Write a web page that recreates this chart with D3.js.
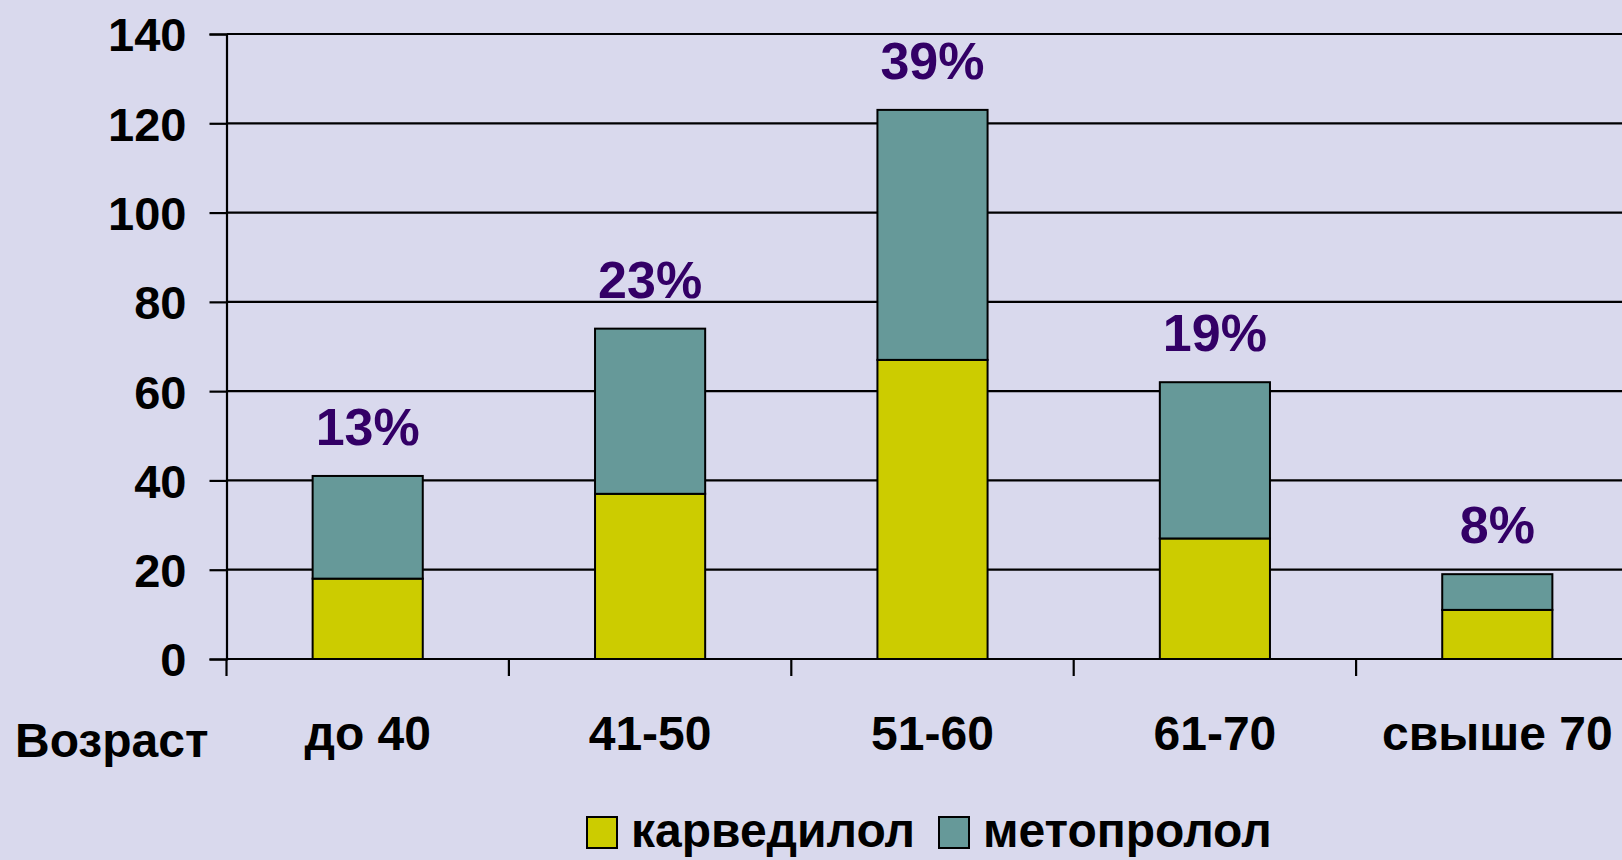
<!DOCTYPE html>
<html>
<head>
<meta charset="utf-8">
<script src="https://cdn.jsdelivr.net/npm/d3@7"></script>
<style>
  html, body { margin: 0; padding: 0; background: #d9d9ed; }
  svg { display: block; font-family: "Liberation Sans", Arial, sans-serif; font-weight: bold; }
</style>
</head>
<body>
<div id="chart"></div>
<script>
// Chart data
const categories = ['до 40', '41-50', '51-60', '61-70', 'свыше 70'];
const carvedilol = [18, 37, 67, 27, 11];
const metoprolol = [23, 37, 56, 35, 8];
const shareLabels = ['13%', '23%', '39%', '19%', '8%'];
const seriesNames = ['карведилол', 'метопролол'];
const yTicks = [0, 20, 40, 60, 80, 100, 120, 140];
const axisTitle = 'Возраст';

const W = 1622, H = 860;
const colors = ['#cccc00', '#669999'];

const svg = d3.select('#chart').append('svg')
    .attr('width', W)
    .attr('height', H);

svg.append('rect').attr('width', W).attr('height', H).attr('fill', '#d9d9ed');

// Scales
const x = d3.scaleBand()
    .domain(categories)
    .range([226.5, 1638.5])
    .paddingInner(0.61)
    .paddingOuter(0.305);

const y = d3.scaleLinear()
    .domain([0, 140])
    .range([659, 34]);

// y axis with outward ticks
const yAxis = d3.axisLeft(y)
    .tickValues(yTicks)
    .tickSize(17)
    .tickPadding(23);

const yg = svg.append('g')
    .attr('transform', 'translate(226.5,0)')
    .call(yAxis);
yg.select('.domain').attr('stroke', '#000').attr('stroke-width', 2.2);
yg.selectAll('.tick line').attr('stroke', '#000').attr('stroke-width', 2.2);
yg.selectAll('.tick text')
    .attr('fill', '#000')
    .attr('font-size', 47)
    .attr('font-family', '"Liberation Sans", Arial, sans-serif')
    .attr('font-weight', 'bold')
    .attr('dy', '0.36em');

// gridlines
svg.append('g').selectAll('line')
    .data(yTicks)
    .join('line')
    .attr('x1', 226.5)
    .attr('x2', W)
    .attr('y1', d => y(d))
    .attr('y2', d => y(d))
    .attr('stroke', '#000')
    .attr('stroke-width', 2.2);

// x axis tick marks at band boundaries
const step = x.step();
const boundaries = d3.range(categories.length + 1).map(i => x.range()[0] + i * step);
svg.append('g').selectAll('line')
    .data(boundaries)
    .join('line')
    .attr('x1', d => d)
    .attr('x2', d => d)
    .attr('y1', y(0))
    .attr('y2', y(0) + 17)
    .attr('stroke', '#000')
    .attr('stroke-width', 2.2);

// Stacked bars
const rows = categories.map((c, i) => ({ cat: c, carv: carvedilol[i], meto: metoprolol[i] }));
const stack = d3.stack().keys(['carv', 'meto'])(rows);

svg.append('g').selectAll('g')
    .data(stack)
    .join('g')
    .attr('fill', (d, i) => colors[i])
    .selectAll('rect')
    .data(d => d)
    .join('rect')
    .attr('x', d => x(d.data.cat))
    .attr('width', x.bandwidth())
    .attr('y', d => y(d[1]))
    .attr('height', d => y(d[0]) - y(d[1]))
    .attr('stroke', '#000')
    .attr('stroke-width', 2);

// Share labels above bars
svg.append('g').selectAll('text')
    .data(rows)
    .join('text')
    .attr('x', d => x(d.cat) + x.bandwidth() / 2)
    .attr('y', d => y(d.carv + d.meto) - 31)
    .attr('text-anchor', 'middle')
    .attr('font-size', 52)
    .attr('fill', '#330066')
    .text((d, i) => shareLabels[i]);

// Category labels
svg.append('g').selectAll('text')
    .data(categories)
    .join('text')
    .attr('x', d => x(d) + x.bandwidth() / 2)
    .attr('y', 750)
    .attr('text-anchor', 'middle')
    .attr('font-size', 48)
    .attr('fill', '#000')
    .text(d => d);

svg.append('text')
    .attr('x', 15)
    .attr('y', 757)
    .attr('font-size', 48)
    .attr('fill', '#000')
    .text(axisTitle);

// Legend (kept clear of the bottom edge)
const legendX = [587, 939];
const lg = svg.append('g').selectAll('g')
    .data(seriesNames)
    .join('g')
    .attr('transform', (d, i) => `translate(${legendX[i]},817)`);

lg.append('rect')
    .attr('width', 30)
    .attr('height', 31)
    .attr('fill', (d, i) => colors[i])
    .attr('stroke', '#000')
    .attr('stroke-width', 2);

lg.append('text')
    .attr('x', 44)
    .attr('y', 30)
    .attr('font-size', 48)
    .attr('fill', '#000')
    .text(d => d);
</script>
</body>
</html>
